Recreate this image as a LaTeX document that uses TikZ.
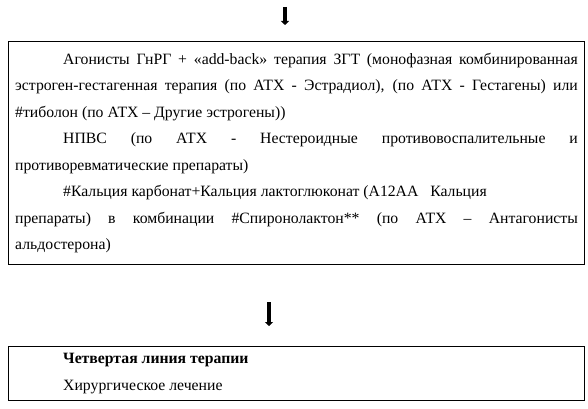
\documentclass[tikz,border=0pt]{standalone}
\usepackage{fontspec}
\setmainfont{Liberation Serif}
\usepackage{tikz}
\usetikzlibrary{arrows.meta}

\newcommand{\ind}{\hspace*{36pt}}

\begin{document}
\begin{tikzpicture}[x=0.75pt,y=-0.75pt,
   box/.style={rectangle,draw,line width=0.8pt,anchor=north west,
    text width=422pt,inner xsep=5pt,align=justify,
    font=\fontsize{11.8}{19.9}\selectfont},
   arr/.style={line width=2.6pt,-{Triangle[width=6pt,length=3pt]}}
    ]
  \useasboundingbox (0,0) rectangle (588,409);

  % -- boxes
  \node[box,minimum height=167.25pt,inner ysep=2pt] at (8,41) (third) {%
  \ind Агонисты ГнРГ + «add-back» терапия ЗГТ (монофазная комбинированная\linebreak
  эстроген-гестагенная терапия (по АТХ - Эстрадиол), (по АТХ - Гестагены) или\linebreak
  \#тиболон (по АТХ – Другие эстрогены))\par
  \ind НПВС (по АТХ - Нестероидные противовоспалительные и\linebreak
  противоревматические препараты)\par
  \ind \#Кальция карбонат+Кальция лактоглюконат (A12AA\ \ \ Кальция\newline
  препараты) в комбинации \#Спиронолактон** (по АТХ – Антагонисты\linebreak
  альдостерона)\par
  \vspace{14pt}};

  \node[box,minimum height=40.5pt,inner ysep=2pt] at (8,346) (fourth) {%
  \ind\textbf{Четвертая линия терапии}\par
  \ind Хирургическое лечение};

  % -- arrows
  \coordinate (t1) at (285,7);
  \coordinate (t2) at (285,25);
  \coordinate (b1) at (269,302);
  \coordinate (b2) at (269,326);
  \draw[arr] (t1) -- (t2);
  \draw[arr] (b1) -- (b2);

\end{tikzpicture}
\end{document}
